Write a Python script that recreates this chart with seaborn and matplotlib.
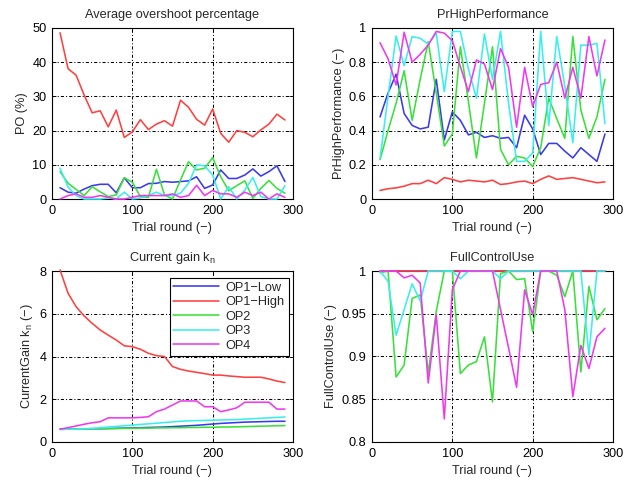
import numpy as np
import pandas as pd
import matplotlib
matplotlib.use("Agg")
import matplotlib.pyplot as plt
import seaborn as sns

trial = list(range(10, 300, 10))
series_names = ["OP1\u2212Low", "OP1\u2212High", "OP2", "OP3", "OP4"]
series_colors = ["#3a3aee", "#ff4040", "#3ae03a", "#3aeeee", "#ee3aee"]

# Average overshoot percentage (PO %)
po_low = [3.3, 2.0, 1.7, 2.9, 3.9, 4.3, 4.3, 1.8, 6.2, 3.3, 3.3, 4.5, 4.6, 5.1, 4.9,
          5.1, 5.3, 6.5, 3.1, 4.1, 8.5, 6.0, 6.0, 7.0, 8.8, 6.7, 8.0, 9.7, 5.1]
po_high = [48.6, 38.1, 36.2, 30.4, 25.2, 25.8, 21.1, 26.0, 18.0, 19.6, 23.2, 20.3, 21.9, 22.9, 21.3,
           28.9, 26.8, 23.3, 21.6, 26.3, 19.2, 16.6, 20.0, 19.5, 18.2, 20.2, 21.9, 24.8, 23.1]
po_op2 = [8.0, 4.6, 2.8, 1.0, 3.6, 2.1, 0.7, 1.2, 6.2, 4.9, 0.7, 0.5, 8.7, 1.2, 0.0,
          5.6, 10.9, 8.5, 9.0, 12.1, 6.5, 2.4, 3.9, 5.3, 0.2, 3.1, 5.4, 3.1, 1.7]
po_op3 = [9.0, 3.5, 1.0, 0.0, 0.0, 0.0, 0.3, 0.0, 2.0, 0.0, 0.3, 1.0, 2.0, 1.0, 1.0,
          1.7, 4.6, 10.0, 9.7, 7.0, 0.0, 3.6, 0.0, 2.6, 6.3, 0.7, 0.0, 0.0, 3.9]
po_op4 = [0.0, 1.0, 1.5, 0.5, 0.5, 1.0, 0.5, 0.0, 0.0, 0.5, 1.0, 1.0, 1.0, 1.0, 1.5,
          0.5, 1.0, 4.0, 1.0, 2.5, 1.5, 1.5, 0.5, 2.0, 1.0, 2.0, 0.0, 1.5, 0.5]

# PrHighPerformance
ph_low = [0.48, 0.62, 0.73, 0.50, 0.43, 0.41, 0.42, 0.70, 0.345, 0.51, 0.46, 0.375, 0.39, 0.36, 0.37,
          0.355, 0.36, 0.30, 0.49, 0.41, 0.26, 0.325, 0.325, 0.28, 0.24, 0.30, 0.26, 0.22, 0.38]
ph_high = [0.05, 0.06, 0.065, 0.075, 0.09, 0.09, 0.11, 0.09, 0.125, 0.115, 0.10, 0.11, 0.105, 0.10, 0.11,
           0.085, 0.09, 0.10, 0.105, 0.09, 0.115, 0.135, 0.115, 0.12, 0.125, 0.115, 0.105, 0.095, 0.10]
ph_op2 = [0.23, 0.40, 0.56, 0.75, 0.46, 0.70, 0.92, 0.62, 0.31, 0.38, 0.89, 0.57, 0.24, 0.56, 0.89,
          0.29, 0.20, 0.25, 0.24, 0.19, 0.30, 0.59, 0.47, 0.355, 0.95, 0.52, 0.355, 0.48, 0.70]
ph_op3 = [0.238, 0.60, 0.953, 0.78, 0.95, 0.94, 0.906, 0.97, 0.628, 0.98, 0.98, 0.76, 0.59, 0.965, 0.70,
          0.98, 0.56, 0.22, 0.22, 0.27, 0.98, 0.43, 0.95, 0.66, 0.33, 0.90, 0.90, 0.91, 0.44]
ph_op4 = [0.914, 0.82, 0.667, 0.975, 0.80, 0.846, 0.90, 0.98, 0.97, 0.926, 0.774, 0.628, 0.813, 0.79, 0.64,
          0.88, 0.77, 0.42, 0.77, 0.54, 0.67, 0.68, 0.80, 0.59, 0.77, 0.59, 0.95, 0.72, 0.93]

# Current gain k_n
kn_low = [0.60, 0.60, 0.61, 0.61, 0.62, 0.62, 0.63, 0.64, 0.65, 0.66, 0.67, 0.68, 0.69, 0.70, 0.72,
          0.74, 0.76, 0.78, 0.81, 0.84, 0.87, 0.89, 0.91, 0.93, 0.94, 0.95, 0.96, 0.97, 0.97]
kn_high = [8.05, 6.96, 6.33, 5.90, 5.55, 5.24, 5.00, 4.77, 4.50, 4.46, 4.34, 4.15, 4.04, 4.00, 3.53,
           3.40, 3.32, 3.26, 3.20, 3.13, 3.13, 3.09, 3.06, 3.03, 3.03, 3.03, 2.95, 2.85, 2.78]
kn_op2 = [0.60, 0.60, 0.61, 0.61, 0.62, 0.62, 0.63, 0.63, 0.64, 0.64, 0.65, 0.65, 0.66, 0.66, 0.67,
          0.67, 0.68, 0.68, 0.69, 0.69, 0.70, 0.70, 0.71, 0.72, 0.73, 0.74, 0.75, 0.76, 0.77]
kn_op3 = [0.58, 0.60, 0.60, 0.62, 0.64, 0.67, 0.70, 0.73, 0.76, 0.79, 0.82, 0.85, 0.88, 0.91, 0.94,
          0.97, 0.99, 1.00, 1.01, 1.02, 1.03, 1.04, 1.05, 1.07, 1.09, 1.11, 1.13, 1.15, 1.17]
kn_op4 = [0.60, 0.67, 0.75, 0.83, 0.90, 0.95, 1.13, 1.13, 1.13, 1.13, 1.15, 1.18, 1.42, 1.54, 1.73,
          1.92, 1.92, 1.92, 1.65, 1.65, 1.42, 1.50, 1.60, 1.86, 1.86, 1.86, 1.86, 1.54, 1.54]

# FullControlUse
fc_low = [1.0] * 29
fc_high = [1.0] * 29
fc_op2 = [0.998, 1.0, 0.876, 0.89, 0.968, 0.972, 0.88, 0.953, 1.0, 1.0, 0.88, 0.89, 0.894, 0.923, 0.847,
          0.997, 1.0, 0.99, 0.991, 0.929, 1.0, 1.0, 0.995, 0.97, 1.0, 0.882, 0.982, 0.943, 0.956]
fc_op3 = [1.0, 0.988, 0.925, 0.955, 0.985, 0.965, 1.0, 1.0, 1.0, 1.0, 0.991, 1.0, 1.0, 1.0, 1.0,
          0.991, 1.0, 1.0, 1.0, 1.0, 1.0, 1.0, 1.0, 1.0, 1.0, 1.0, 0.902, 1.0, 1.0]
fc_op4 = [1.0, 1.0, 1.0, 0.992, 0.995, 0.986, 0.869, 0.949, 0.827, 0.978, 1.0, 1.0, 1.0, 1.0, 1.0,
          0.955, 0.91, 0.864, 0.978, 0.949, 1.0, 1.0, 1.0, 0.955, 0.853, 0.913, 0.886, 0.923, 0.933]


def long_df(values):
    rows = []
    for name, vals in zip(series_names, values):
        for t, v in zip(trial, vals):
            rows.append({"trial": t, "value": v, "series": name})
    return pd.DataFrame(rows)


sns.set_theme(style="white")
plt.rcParams["font.family"] = ["Liberation Sans", "DejaVu Sans"]
plt.rcParams["axes.unicode_minus"] = True

fig = plt.figure(figsize=(6.31, 4.80), dpi=100)
W, H = 631, 480


def make_ax(l, t, r, b):
    return fig.add_axes([l / W, 1 - b / H, (r - l) / W, (b - t) / H])


ax1 = make_ax(52, 28, 293, 199)
ax2 = make_ax(372, 28, 613, 199)
ax3 = make_ax(52, 271, 293, 442)
ax4 = make_ax(372, 271, 613, 442)

palette = dict(zip(series_names, series_colors))
fs = 9.2

panels = [
    (ax1, [po_low, po_high, po_op2, po_op3, po_op4], "Average overshoot percentage", "PO (%)",
     (0, 50), [0, 10, 20, 30, 40, 50], ["0", "10", "20", "30", "40", "50"], False),
    (ax2, [ph_low, ph_high, ph_op2, ph_op3, ph_op4], "PrHighPerformance", "PrHighPerformance (\u2212)",
     (0, 1), [0, 0.2, 0.4, 0.6, 0.8, 1.0], ["0", "0.2", "0.4", "0.6", "0.8", "1"], False),
    (ax3, [kn_low, kn_high, kn_op2, kn_op3, kn_op4], "Current gain k$_\\mathregular{n}$",
     "CurrentGain k$_\\mathregular{n}$ (\u2212)",
     (0, 8), [0, 2, 4, 6, 8], ["0", "2", "4", "6", "8"], True),
    (ax4, [fc_low, fc_high, fc_op2, fc_op3, fc_op4], "FullControlUse", "FullControlUse (\u2212)",
     (0.8, 1.0), [0.8, 0.85, 0.9, 0.95, 1.0], ["0.8", "0.85", "0.9", "0.95", "1"], False),
]

for ax, vals, title, ylabel, ylim, yt, ytl, show_leg in panels:
    df = long_df(vals)
    sns.lineplot(data=df, x="trial", y="value", hue="series", palette=palette,
                 hue_order=series_names, ax=ax, linewidth=1.15, legend=show_leg)
    for ln in ax.get_lines():
        ln.set_clip_on(False)
        ln.set_zorder(3)
    ax.set_xlim(0, 300)
    ax.set_ylim(*ylim)
    ax.set_xticks([0, 100, 200, 300])
    ax.set_xticklabels(["0", "100", "200", "300"])
    ax.set_yticks(yt)
    ax.set_yticklabels(ytl)
    ax.set_title(title, fontsize=fs, pad=7)
    ax.set_ylabel(ylabel, fontsize=fs, labelpad=3)
    ax.set_xlabel("Trial round (\u2212)", fontsize=fs, labelpad=4)
    ax.tick_params(labelsize=fs, direction="in", length=3, width=0.6,
                   top=True, right=True, bottom=True, left=True, pad=4, colors="black")
    ax.grid(True, color="black", linestyle=(0, (3, 2, 1, 2)), linewidth=0.75)
    for s in ax.spines.values():
        s.set_color("black")
        s.set_linewidth(0.8)
    if show_leg:
        leg = ax.legend(loc="upper right", bbox_to_anchor=(0.993, 0.975), fontsize=fs,
                        frameon=True, fancybox=False, borderpad=0.3, labelspacing=0.2,
                        handlelength=3.6, handletextpad=0.5, borderaxespad=0.2)
        leg.get_frame().set_edgecolor("black")
        leg.get_frame().set_linewidth(0.8)
        leg.get_frame().set_alpha(1)
        leg.set_zorder(5)

fig.savefig("out.png", dpi=100)
